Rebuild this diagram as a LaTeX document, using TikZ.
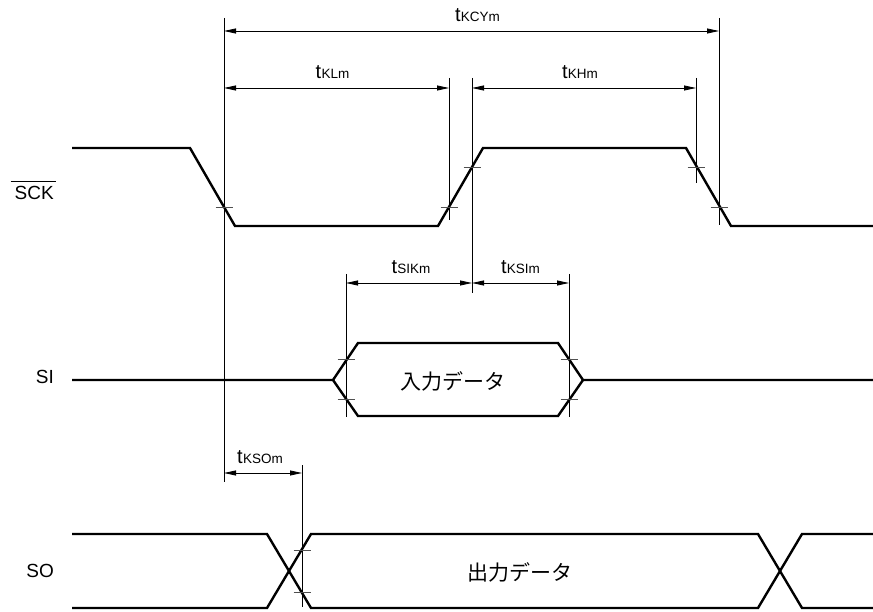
\documentclass[tikz,border=0pt]{standalone}
\usepackage{fontspec}
\setmainfont{Liberation Sans}
\newfontfamily\jpfont{Noto Sans CJK JP}
\usetikzlibrary{arrows.meta, calc}
\definecolor{tickgray}{RGB}{80, 80, 80}
\newcommand{\tsub}[1]{t\kern0.4pt{\fontsize{13.5}{13.5}\selectfont #1}}

\begin{document}
\begin{tikzpicture}[x=1pt, y=-1pt,
  wave/.style={line width=2.4pt, line join=miter},
  refline/.style={line width=0.8pt},
  tickmark/.style={line width=0.8pt, draw=tickgray},
  dimline/.style={line width=0.8pt, {Triangle[length=12pt, width=5pt]}-{Triangle[length=12pt, width=5pt]}},
  tlabel/.style={above=9pt, inner sep=0pt, font=\fontsize{20}{20}\selectfont},
  signame/.style={anchor=east, inner sep=0pt, font=\fontsize{19}{19}\selectfont},
  datatext/.style={inner sep=0pt, font=\jpfont\fontsize{21}{21}\selectfont}]
  \useasboundingbox (0,0) rectangle (873,612);

  % Signal names
  \node[signame] (sck) at (54,193) {SCK};
  \draw[line width=0.9pt] ([xshift=-4pt, yshift=5pt]sck.north west) -- ([xshift=2pt, yshift=5pt]sck.north east);
  \node[signame] (si) at (54,377) {SI};
  \node[signame] (so) at (54,571) {SO};

  % Waveforms
  \draw[wave] (72,148) -- (190,148) -- (235,226) -- (438,226) -- (483,148) -- (686,148) -- (731,226) -- (873,226);
  \draw[wave] (72,380) -- (333,380) -- (358,343) -- (558,343) -- (583,380) -- (873,380);
  \draw[wave] (333,380) -- (358,416) -- (558,416) -- (583,380);
  \draw[wave] (72,534) -- (267,534) -- (311,608) -- (758,608) -- (802,534) -- (873,534);
  \draw[wave] (72,608) -- (267,608) -- (311,534) -- (758,534) -- (802,608) -- (873,608);

  \node[datatext] (indata) at (453,381) {入力データ};
  \node[datatext] (outdata) at (520,572) {出力データ};

  % Reference lines and level marks
  \foreach \x/\ya/\yb in {224/18/482, 449/78/220, 472/78/293, 696/78/183, 719/18/225, 346/274/417, 569/274/417, 302/465/607}
    \draw[refline] (\x,\ya) -- (\x,\yb);
  \foreach \x/\y in {224/207, 449/207, 472/167, 696/167, 719/207, 346/359, 346/399, 569/359, 569/399, 302/550, 302/592}
    \draw[tickmark] ({\x-8.5},\y) -- ({\x+8.5},\y);

  % Timing dimensions
  \coordinate (kcyL) at (224,31);
  \coordinate (kcyR) at (719,31);
  \coordinate (klL) at (224,88);
  \coordinate (klR) at (449,88);
  \coordinate (khL) at (472,88);
  \coordinate (khR) at (696,88);
  \coordinate (sikL) at (346,283);
  \coordinate (sikR) at (472,283);
  \coordinate (ksiR) at (569,283);
  \coordinate (ksoL) at (224,473);
  \coordinate (ksoR) at (302,473);

  \draw[dimline] (kcyL) -- node[tlabel, xshift=6pt] (tkcy) {\tsub{KCYm}} (kcyR);
  \draw[dimline] (klL) -- node[tlabel, xshift=-4pt] (tkl) {\tsub{KLm}} (klR);
  \draw[dimline] (khL) -- node[tlabel, xshift=-4pt] (tkh) {\tsub{KHm}} (khR);
  \draw[dimline] (sikL) -- node[tlabel, xshift=2pt] (tsik) {\tsub{SIKm}} (sikR);
  \draw[dimline] (sikR) -- node[tlabel] (tksi) {\tsub{KSIm}} (ksiR);
  \draw[dimline] (ksoL) -- node[tlabel, xshift=-3pt] (tkso) {\tsub{KSOm}} (ksoR);
\end{tikzpicture}
\end{document}
